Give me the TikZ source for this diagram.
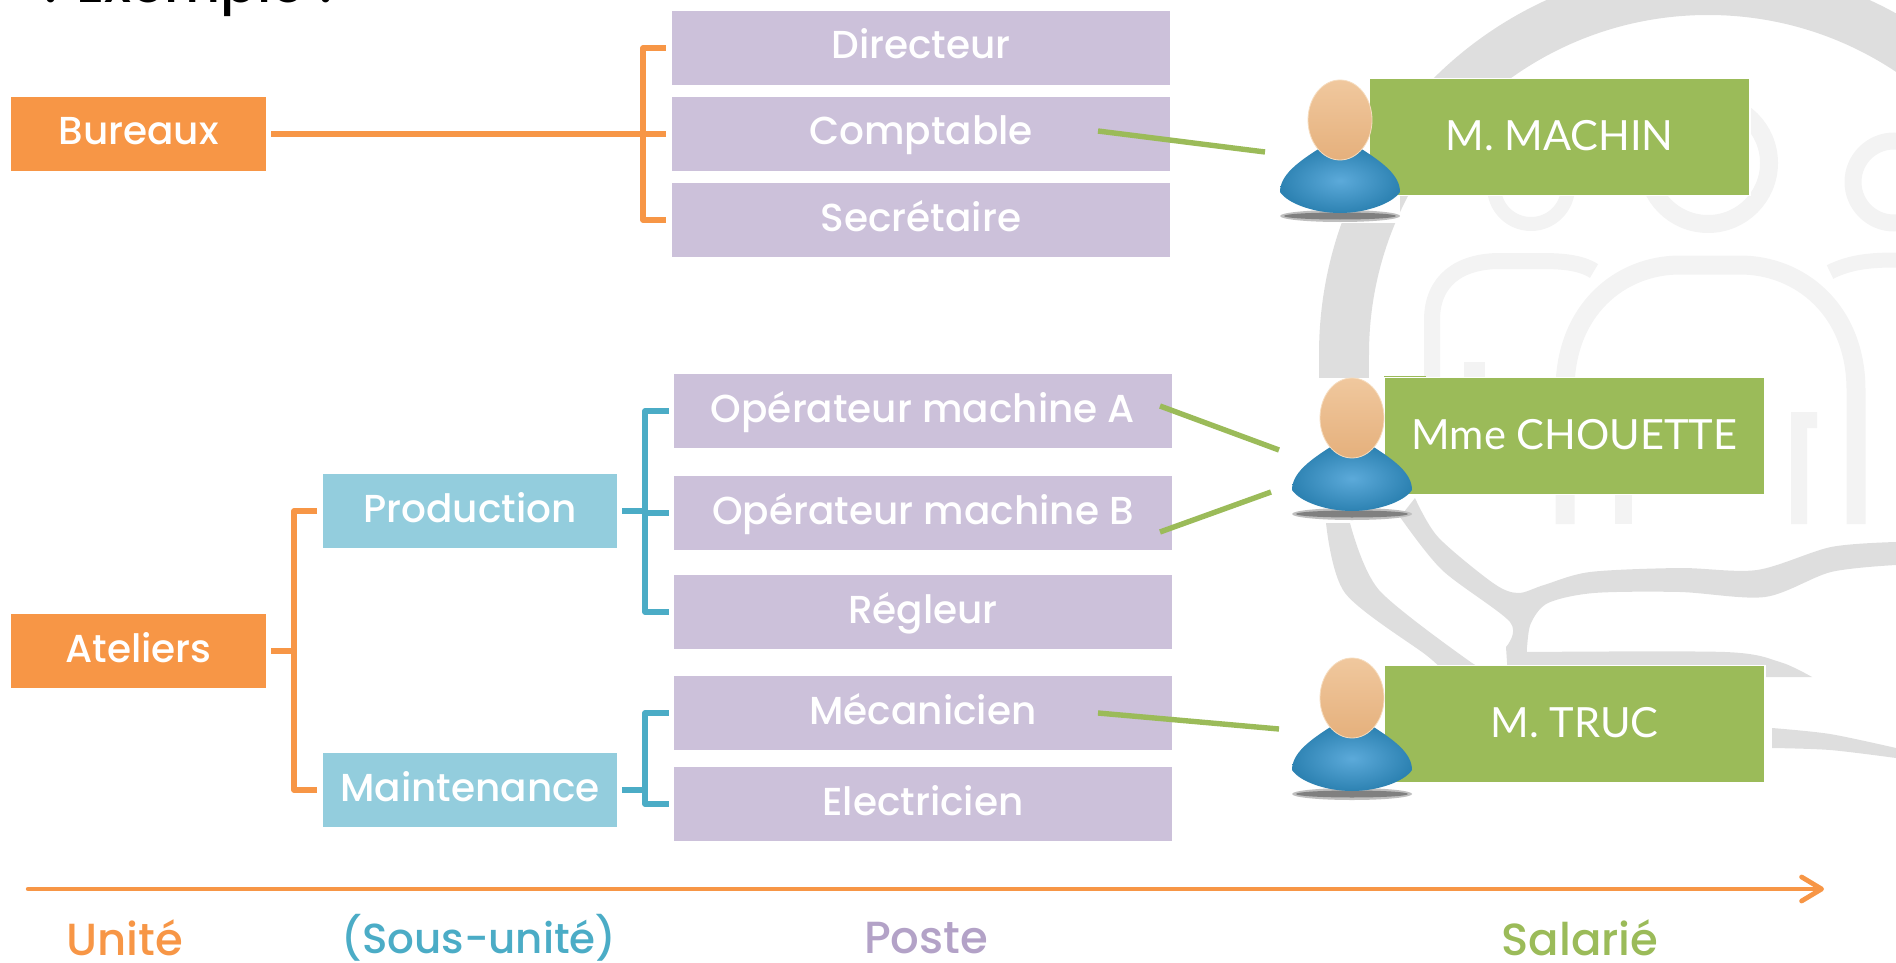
\documentclass[tikz,border=0pt]{standalone}
\usepackage{fontspec}
\setmainfont{Poppins Medium}
\newfontfamily\namefont{Lato}
\usetikzlibrary{arrows.meta}
\definecolor{orangeC}{HTML}{F79646}
\definecolor{purpleC}{HTML}{CCC1DA}
\definecolor{purpleT}{HTML}{B3A2C7}
\definecolor{blueC}{HTML}{93CDDD}
\definecolor{blueT}{HTML}{4BACC6}
\definecolor{greenC}{HTML}{9BBB59}
\definecolor{wmA}{HTML}{DEDEDE}
\definecolor{wmB}{HTML}{F3F3F3}
\tikzset{
  basebox/.style={inner sep=0pt,text=white,align=center,font=\fontsize{19.5}{22}\selectfont,text height=12pt,text depth=1pt},
  orangebox/.style={basebox,fill=orangeC,minimum width=127.5pt,minimum height=37pt},
  bluebox/.style={basebox,fill=blueC,minimum width=147pt,minimum height=37pt},
  purplebox/.style={basebox,fill=purpleC,minimum width=249pt,minimum height=37pt},
  greenbox/.style={basebox,fill=greenC,draw=white,line width=0.8pt,minimum width=190.5pt,minimum height=58.5pt,font=\namefont\fontsize{20.8}{24}\selectfont,text height=14pt,text depth=0.8pt},
  obracket/.style={draw=orangeC,line width=2.7pt,line join=round},
  bbracket/.style={draw=blueT,line width=2.7pt,line join=round},
  greenline/.style={draw=greenC,line width=2.7pt},
  legend/.style={inner sep=0pt,font=\fontsize{22.5}{26}\selectfont},
  person/.pic={
    \fill[black!25] (0,96) ellipse [x radius=60,y radius=6];
    \fill[black!50] (0,96) ellipse [x radius=56,y radius=3.5];
    \shade[inner color={rgb,255:red,92;green,170;blue,218},outer color={rgb,255:red,45;green,130;blue,178}]
      (-60,72) .. controls (-60,55) and (-42,42) .. (-20,28) -- (20,28)
      .. controls (42,42) and (60,55) .. (60,72)
      .. controls (52,84) and (25,93) .. (0,93)
      .. controls (-25,93) and (-52,84) .. (-60,72) -- cycle;
    \shade[top color={rgb,255:red,240;green,200;blue,158},bottom color={rgb,255:red,229;green,176;blue,124},draw={rgb,255:red,246;green,220;blue,190},line width=.4pt]
      (0,0) ellipse [x radius=32,y radius=40];
  }
}
\begin{document}
\begin{tikzpicture}[x=0.5pt,y=-0.5pt]
\useasboundingbox (0,0) rectangle (1896,963);
\clip (0,0) rectangle (1896,963);
% watermark
\begin{scope}
  \clip (0,0) rectangle (1896,354);
  \draw[wmA,line width=25pt] (1708,354) circle [radius=364];
\end{scope}
\fill[wmA] (1319,354) rectangle (1369,380);
\fill[wmA] plot[smooth] coordinates {(1326,523) (1345,593) (1426,655) (1440,668)}
  -- (1480,668) -- plot[smooth] coordinates {(1472,663) (1379,590) (1350,523)} -- cycle;
\fill[wmA] plot[smooth] coordinates {(1415,498) (1438,537) (1493,583) (1518,593) (1544,585) (1590,572) (1680,568) (1757,570) (1831,547) (1896,542)}
  -- plot[smooth] coordinates {(1896,565) (1831,572) (1765,597) (1680,592) (1594,593) (1548,603) (1531,623) (1527,647) (1527,652)}
  -- plot[smooth] coordinates {(1527,652) (1725,652) (1780,662) (1812,677)}
  -- (1508,677) -- plot[smooth] coordinates {(1506,647) (1510,622) (1442,570) (1400,517)} -- cycle;
\fill[wmA] plot[smooth] coordinates {(1772,728) (1830,734) (1896,748)} -- plot[smooth] coordinates {(1896,758) (1830,750) (1772,748)} -- cycle;
\begin{scope}[wmB]
  \draw[line width=9pt] (1708,163) circle [radius=61];
  \draw[line width=7pt] (1531,187) circle [radius=37];
  \draw[line width=8.5pt] (1894,182) circle [radius=41];
  \draw[line width=9.5pt] (1565,524) -- (1565,390) .. controls (1565,310) and (1620,265) .. (1680,265) -- (1740,265) .. controls (1800,265) and (1856,310) .. (1856,390) -- (1856,524);
  \draw[line width=8pt] (1432,380) -- (1432,320) .. controls (1432,280) and (1460,261) .. (1500,261) -- (1540,261) .. controls (1560,261) and (1580,262) .. (1594,271);
  \draw[line width=7.5pt] (1830,272) .. controls (1850,262) and (1870,260) .. (1896,260);
  \fill (1464,362) rectangle (1485,380);
  \fill (1615,490) rectangle (1632,524);
  \fill (1791,412) -- (1817,412) -- (1817,428) -- (1807,428) -- (1807,524) -- (1791,524) -- cycle;
\end{scope}
% white patches of the person pictures
\fill[white] (1272,78) rectangle (1400,223);
\fill[white] (1272,378) rectangle (1426,494);
\fill[white] (1272,494) rectangle (1400,522);
\fill[white] (1272,664) rectangle (1426,800);
\fill[greenC] (1384,376) rectangle (1426,495);
\fill[greenC] (1384,666) rectangle (1426,783);
% boxes
\node[orangebox] (bureaux) at (138.5,134) {Bureaux};
\node[orangebox] (ateliers) at (138.5,651) {Ateliers};
\node[bluebox] (production) at (470,511) {Production};
\node[bluebox] (maintenance) at (470,790) {Maintenance};
\node[purplebox] (directeur) at (921,48) {Directeur};
\node[purplebox] (comptable) at (921,134) {Comptable};
\node[purplebox] (secretaire) at (921,220) {Secrétaire};
\node[purplebox] (opa) at (923,411) {Opérateur machine A};
\node[purplebox] (opb) at (923,513) {Opérateur machine B};
\node[purplebox] (regleur) at (923,612) {Régleur};
\node[purplebox] (mecanicien) at (923,713) {Mécanicien};
\node[purplebox] (electricien) at (923,804) {Electricien};
\node[greenbox] (machin) at (1559.5,137) {M. MACHIN};
\node[greenbox] (chouette) at (1574.5,436) {Mme CHOUETTE};
\node[greenbox] (truc) at (1574.5,724) {M. TRUC};
% brackets
\coordinate (j1) at (643,134);
\coordinate (j2) at (294,651);
\coordinate (j3) at (645,511);
\coordinate (j4) at (645,790);
\draw[obracket] ([xshift=2.5pt]bureaux.east) -- ([xshift=-3pt]comptable.west);
\draw[obracket] ([xshift=-3pt]directeur.west) -| (j1) |- ([xshift=-3pt]secretaire.west);
\draw[obracket] ([xshift=2.5pt]ateliers.east) -- (j2);
\draw[obracket] ([xshift=-3pt]production.west) -| (j2) |- ([xshift=-3pt]maintenance.west);
\draw[bbracket] ([xshift=2.5pt]production.east) -- (j3);
\draw[bbracket] ([xshift=-2.5pt]opa.west) -| (j3) |- ([xshift=-2.5pt]regleur.west);
\draw[bbracket] (j3 |- opb.west) -- ([xshift=-2.5pt]opb.west);
\draw[bbracket] ([xshift=2.5pt]maintenance.east) -- (j4);
\draw[bbracket] ([xshift=-2.5pt]mecanicien.west) -| (j4) |- ([xshift=-2.5pt]electricien.west);
% people
\pic at (1340,120) {person};
\pic at (1352,418) {person};
\pic at (1352,698) {person};
\coordinate (p1) at (1265,152);
\coordinate (p2a) at (1279,450);
\coordinate (p2b) at (1271,492);
\coordinate (p3) at (1279,729);
\draw[greenline] ([xshift=88.5pt,yshift=1.5pt]comptable.center) -- (p1);
\draw[greenline] ([xshift=118.5pt,yshift=2.5pt]opa.center) -- (p2a);
\draw[greenline] ([xshift=118.5pt,yshift=-9.5pt]opb.center) -- (p2b);
\draw[greenline] ([xshift=87.5pt]mecanicien.center) -- (p3);
% axis
\coordinate (axA) at (28,889);
\coordinate (axB) at (1824,889);
\draw[orangeC,line width=2.2pt,line cap=round,-{Straight Barb[length=10pt,width=12pt,line width=2.4pt,round]}] (axA) -- (axB);
% legend
\node[legend,text=orangeC] (l1) at (125,938) {Unité};
\node[legend,text=blueT,font=\fontsize{21}{26}\selectfont] (l2) at (479,938) {(Sous-unité)};
\node[legend,text=purpleT] (l3) at (926,938) {Poste};
\node[legend,text=greenC] (l4) at (1580,938) {Salarié};
\node[anchor=base west,inner sep=0pt,text=black,font=\fontsize{27}{30}\selectfont] (title) at (44,3) {: Exemple :};
\end{tikzpicture}
\end{document}
